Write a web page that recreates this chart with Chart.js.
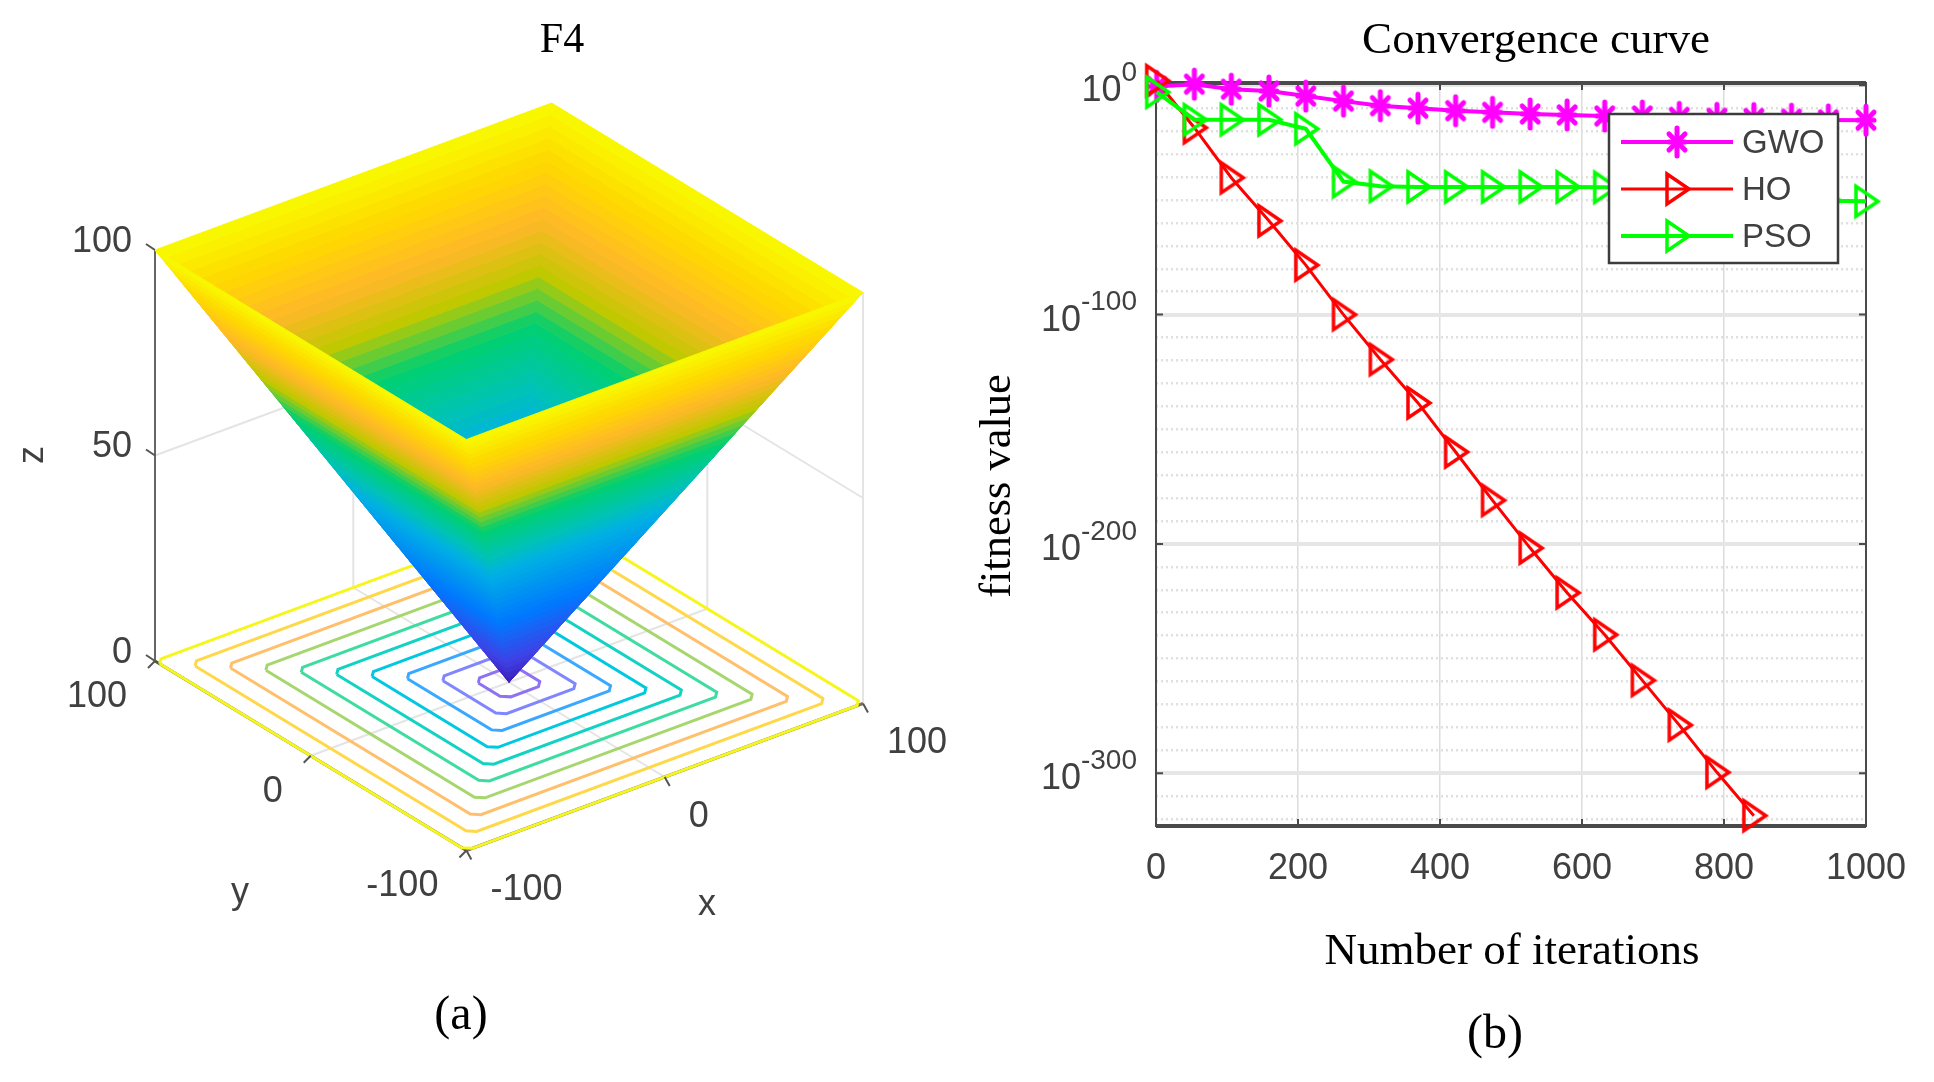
<!DOCTYPE html>
<html lang="en">
<head>
<meta charset="UTF-8">
<title>F4 and convergence curve</title>
<script src="https://cdn.jsdelivr.net/npm/chart.js"></script>
<style>
  html, body { margin: 0; padding: 0; background: #fff; }
  #page { position: relative; width: 1934px; height: 1082px; overflow: hidden; filter: blur(0.5px); }
  canvas { position: absolute; left: 0; top: 0; }
</style>
</head>
<body>
<div id="page">
  <canvas id="surfaceChart" width="1934" height="1082"></canvas>
  <canvas id="curveChart" width="1934" height="1082"></canvas>
</div>
<script>
// panel (b) values, fitness is kept as log10 because it goes down to 1e-323
const iterations = [1, 54, 106, 159, 211, 264, 316, 369, 422, 474, 527, 579, 632, 685, 737, 790, 842, 895, 947, 1000];
const gwoLog10 = [-0.5, 0.5, -1.7, -2.5, -4.7, -6.9, -8.9, -10, -11.1, -11.8, -12.5, -12.9, -13.4, -13.4, -14, -14.4, -14.5, -14.8, -15.1, -15.2];
const hoLog10 = [2, -18.5, -40.3, -59.1, -78.4, -100, -119.6, -138.5, -159.9, -181, -201.8, -221.3, -239.6, -259.5, -279, -299.6, -318.5];
const psoLog10 = [-3, -15, -15, -15, -19, -42, -44, -44.3, -44.3, -44.3, -44.3, -44.3, -44.5, -45, -46, -47, -48, -49.5, -50.3, -50.6];
const xTicks = [0, 200, 400, 600, 800, 1000];
const yMajorExponents = [0, -100, -200, -300];

// panel (a) values
const surfaceCornersX = [-100, 100, 100, -100];
const surfaceCornersY = [100, 100, -100, -100];
const surfaceLevels = [0, 2, 4, 6, 8, 10, 12, 14, 16, 18, 20, 22, 24, 26, 28, 30, 32, 34, 36, 38, 40, 42, 44, 46, 48, 50, 52, 54, 56, 58, 60, 62, 64, 66, 68, 70, 72, 74, 76, 78, 80, 82, 84, 86, 88, 90, 92, 94, 96, 98, 100];
const contourLevels = [100, 90, 80, 70, 60, 50, 40, 30, 20, 10];
const contourColors = ['#f6f61e', '#ffd84a', '#ffc06c', '#a6d66e', '#3edca0', '#12d2c4', '#00c8e0', '#3aa8ff', '#7f86ff', '#8f72f4'];
const zTicks = [0, 50, 100];
const xyTicks = [-100, 0, 100];

// colour along z
const colorStopZ = [0, 8, 24, 44, 52, 62, 71, 80, 90, 100];
const colorStops = [[58, 30, 184], [64, 64, 230], [0, 120, 255], [0, 176, 228], [0, 196, 176], [0, 208, 112], [192, 200, 0], [255, 184, 40], [255, 216, 0], [248, 250, 0]];

const SANS = '"Liberation Sans", Arial, sans-serif';
const SERIF = '"Liberation Serif", "Times New Roman", serif';
const TICK_COLOR = '#404040';

function project(x, y, z) {
  return { x: 509 + 1.983 * x - 1.557 * y, y: 682.25 - 0.735 * x - 0.9475 * y - 4.11 * z };
}

function surfaceColor(z) {
  let i = 0;
  while (i < colorStopZ.length - 2 && z > colorStopZ[i + 1]) i++;
  const t = (z - colorStopZ[i]) / (colorStopZ[i + 1] - colorStopZ[i]);
  const c = colorStops[i].map((v, k) => Math.round(v + (colorStops[i + 1][k] - v) * t));
  return `rgb(${c[0]},${c[1]},${c[2]})`;
}

function lineSet(points, color, width) {
  return { data: points, borderColor: color, borderWidth: width, showLine: true, pointRadius: 0, fill: false, clip: false };
}

// one band of a pyramid wall, between two corners and two heights
function bandSet(a, b, z0, z1) {
  const s0 = z0 / 100, s1 = z1 / 100;
  const xs = surfaceCornersX, ys = surfaceCornersY;
  const pts = [
    project(xs[a] * s0, ys[a] * s0, z0),
    project(xs[b] * s0, ys[b] * s0, z0),
    project(xs[b] * s1, ys[b] * s1, z1),
    project(xs[a] * s1, ys[a] * s1, z1),
    project(xs[a] * s0, ys[a] * s0, z0)
  ];
  const color = surfaceColor((z0 + z1) / 2);
  return { data: pts, borderColor: color, backgroundColor: color, borderWidth: 1, showLine: true, pointRadius: 0, fill: 'shape', clip: false };
}

// square contour on the floor with the corners cut off
function contourRing(level, color) {
  const cut = 3;
  const pts = [];
  [[-1, 1], [1, 1], [1, -1], [-1, -1]].forEach(([sx, sy], i) => {
    const onEdge = project(sx * level, sy * (level - cut), 0);
    const onNext = project(sx * (level - cut), sy * level, 0);
    if (i % 2 === 0) pts.push(onEdge, onNext);
    else pts.push(onNext, onEdge);
  });
  pts.push(pts[0]);
  return lineSet(pts, color, 3);
}

function surfaceDatasets() {
  const sets = [];
  const GRID = '#e4e4e4';
  // back walls and floor grid
  sets.push(lineSet([project(-100, 100, 50), project(100, 100, 50), project(100, -100, 50)], GRID, 2));
  [[-100, 100], [0, 100], [100, 100], [100, 0], [100, -100]].forEach(([x, y]) => {
    sets.push(lineSet([project(x, y, 0), project(x, y, 100)], GRID, 2));
  });
  sets.push(lineSet([project(0, -100, 0), project(0, 100, 0)], GRID, 2));
  sets.push(lineSet([project(-100, 0, 0), project(100, 0, 0)], GRID, 2));
  // box edges under the contour rings
  sets.push(lineSet([project(-100, 100, 0), project(-100, -100, 0)], '#55553a', 3));
  sets.push(lineSet([project(-100, -100, 0), project(100, -100, 0)], '#777755', 3));
  contourLevels.forEach((level, i) => sets.push(contourRing(level, contourColors[i])));
  sets.push(lineSet([project(-100, 100, 0), project(-100, 100, 100)], '#666666', 2));
  // ticks
  zTicks.forEach(z => {
    const p = project(-100, 100, z);
    sets.push(lineSet([p, { x: p.x - 9, y: p.y - 6 }], '#555555', 2));
  });
  xyTicks.forEach(v => {
    const px = project(v, -100, 0), py = project(-100, v, 0);
    sets.push(lineSet([px, { x: px.x + 5, y: px.y + 9 }], '#555555', 2));
    sets.push(lineSet([py, { x: py.x - 7, y: py.y + 7 }], '#555555', 2));
  });
  // walls: back ones first, front ones paint over them
  [[0, 1], [1, 2], [3, 0], [2, 3]].forEach(([a, b]) => {
    for (let i = 0; i < surfaceLevels.length - 1; i++) {
      sets.push(bandSet(a, b, surfaceLevels[i], surfaceLevels[i + 1]));
    }
  });
  return sets.reverse(); // first dataset is painted last by Chart.js
}

function drawText(ctx, text, x, y, font, color, align, rotate) {
  ctx.save();
  ctx.translate(x, y);
  if (rotate) ctx.rotate(rotate);
  ctx.font = font;
  ctx.fillStyle = color;
  ctx.textAlign = align || 'center';
  ctx.textBaseline = 'middle';
  ctx.fillText(text, 0, 0);
  ctx.restore();
}

const surfaceLabels = {
  id: 'surfaceLabels',
  afterDraw(chart) {
    const ctx = chart.ctx;
    const tickFont = `36px ${SANS}`;
    zTicks.forEach(z => {
      const p = project(-100, 100, z);
      drawText(ctx, String(z), p.x - 23, p.y - 8, tickFont, TICK_COLOR, 'right');
    });
    xyTicks.forEach(v => {
      const px = project(v, -100, 0), py = project(-100, v, 0);
      drawText(ctx, String(v), px.x + 24, px.y + 40, tickFont, TICK_COLOR, 'left');
      drawText(ctx, String(v), py.x - 28, py.y + 36, tickFont, TICK_COLOR, 'right');
    });
    drawText(ctx, 'x', 707, 905, tickFont, TICK_COLOR);
    drawText(ctx, 'y', 240, 893, tickFont, TICK_COLOR);
    drawText(ctx, 'z', 33, 455, tickFont, TICK_COLOR, 'center', -Math.PI / 2);
    drawText(ctx, 'F4', 562, 41, `42px ${SERIF}`, '#000');
    drawText(ctx, '(a)', 461, 1016, `48px ${SERIF}`, '#000');
  }
};

new Chart(document.getElementById('surfaceChart'), {
  type: 'scatter',
  data: { datasets: surfaceDatasets() },
  options: {
    responsive: false,
    animation: false,
    layout: { padding: 0 },
    scales: {
      x: { display: false, min: 0, max: 1934 },
      y: { display: false, min: 0, max: 1082, reverse: true }
    },
    plugins: { legend: { display: false }, tooltip: { enabled: false } }
  },
  plugins: [surfaceLabels]
});

// MATLAB '>' marker, taller than it is wide in this figure
function triangleMarker(color) {
  const c = document.createElement('canvas');
  c.width = 34; c.height = 38;
  const g = c.getContext('2d');
  g.strokeStyle = color;
  g.lineWidth = 3.5;
  g.beginPath();
  g.moveTo(7, 4);
  g.lineTo(29, 19);
  g.lineTo(7, 34);
  g.closePath();
  g.stroke();
  return c;
}

function starMarker(color) {
  const c = document.createElement('canvas');
  c.width = 26; c.height = 36;
  const g = c.getContext('2d');
  g.strokeStyle = color;
  g.lineWidth = 5;
  g.lineCap = 'round';
  [[13, 4, 13, 32], [5, 10, 21, 26], [21, 10, 5, 26], [5, 18, 21, 18]].forEach(s => {
    g.beginPath();
    g.moveTo(s[0], s[1]);
    g.lineTo(s[2], s[3]);
    g.stroke();
  });
  return c;
}

const gwoMarker = starMarker('#ff00ff');
const hoMarker = triangleMarker('#ff0000');
const psoMarker = triangleMarker('#00ff00');

function curve(label, values, color, width, marker, order) {
  return {
    label,
    order,
    data: values.map((v, i) => ({ x: iterations[i], y: v })),
    borderColor: color,
    borderWidth: width,
    pointStyle: marker,
    pointRadius: 14,
    showLine: true,
    clip: false,
    fill: false
  };
}

const curveDecor = {
  id: 'curveDecor',
  beforeDatasetsDraw(chart) {
    const ctx = chart.ctx, a = chart.chartArea;
    ctx.save();
    ctx.strokeStyle = '#4a4a4a';
    ctx.lineWidth = 2;
    ctx.strokeRect(a.left, a.top, a.right - a.left, a.bottom - a.top);
    ctx.lineWidth = 4;
    ctx.beginPath();
    ctx.moveTo(a.left, a.top); ctx.lineTo(a.right, a.top);
    ctx.moveTo(a.left, a.bottom); ctx.lineTo(a.right, a.bottom);
    ctx.stroke();
    ctx.lineWidth = 2;
    xTicks.forEach(v => {
      const x = chart.scales.x.getPixelForValue(v);
      ctx.beginPath();
      ctx.moveTo(x, a.bottom); ctx.lineTo(x, a.bottom - 7);
      ctx.moveTo(x, a.top); ctx.lineTo(x, a.top + 7);
      ctx.stroke();
    });
    yMajorExponents.forEach(v => {
      const y = chart.scales.y.getPixelForValue(v);
      ctx.beginPath();
      ctx.moveTo(a.left, y); ctx.lineTo(a.left + 7, y);
      ctx.moveTo(a.right, y); ctx.lineTo(a.right - 7, y);
      ctx.stroke();
    });
    ctx.restore();
  },
  afterDraw(chart) {
    const ctx = chart.ctx, a = chart.chartArea;
    // y tick labels: base and raised exponent
    yMajorExponents.forEach(v => {
      const y = chart.scales.y.getPixelForValue(v);
      drawText(ctx, String(v), a.left - 19, y - 12, `28px ${SANS}`, TICK_COLOR, 'right');
      ctx.font = `28px ${SANS}`;
      const w = ctx.measureText(String(v)).width;
      drawText(ctx, '10', a.left - 19 - w, y + 6, `36px ${SANS}`, TICK_COLOR, 'right');
    });
    // legend box sits over the curves
    const boxX = 1609, boxY = 114, boxW = 229, boxH = 149;
    ctx.save();
    ctx.fillStyle = '#fff';
    ctx.strokeStyle = '#3c3c3c';
    ctx.lineWidth = 2.5;
    ctx.fillRect(boxX, boxY, boxW, boxH);
    ctx.strokeRect(boxX, boxY, boxW, boxH);
    chart.data.datasets.forEach((ds, i) => {
      const y = boxY + 28 + i * 47;
      ctx.strokeStyle = ds.borderColor;
      ctx.lineWidth = ds.borderWidth;
      ctx.beginPath();
      ctx.moveTo(boxX + 12, y);
      ctx.lineTo(boxX + 124, y);
      ctx.stroke();
      const m = ds.pointStyle;
      ctx.drawImage(m, boxX + 68 - m.width / 2, y - m.height / 2);
      drawText(ctx, ds.label, boxX + 133, y + 2, `33px ${SANS}`, TICK_COLOR, 'left');
    });
    ctx.restore();
    drawText(ctx, 'Convergence curve', 1536, 41, `45px ${SERIF}`, '#000');
    drawText(ctx, 'Number of iterations', 1512, 952, `45px ${SERIF}`, '#000');
    drawText(ctx, 'fitness value', 998, 486, `44.5px ${SERIF}`, '#000', 'center', -Math.PI / 2);
    drawText(ctx, '(b)', 1495, 1035, `48px ${SERIF}`, '#000');
  }
};

new Chart(document.getElementById('curveChart'), {
  type: 'scatter',
  data: {
    datasets: [
      curve('GWO', gwoLog10, '#ff00ff', 4, gwoMarker, 3),
      curve('HO', hoLog10, '#ff0000', 3, hoMarker, 2),
      curve('PSO', psoLog10, '#00ff00', 4, psoMarker, 1)
    ]
  },
  options: {
    responsive: false,
    animation: false,
    layout: { padding: { top: 83, right: 68 } },
    scales: {
      x: {
        type: 'linear',
        min: 0,
        max: 1000,
        // keep the plot box where it is whatever the width of the last tick label
        afterFit: s => { s.height = 256; s.paddingRight = 0; s.paddingLeft = 0; },
        afterBuildTicks: s => { s.ticks = xTicks.map(v => ({ value: v })); },
        grid: { color: '#dcdcdc', lineWidth: 1.5, drawTicks: false },
        border: { display: false },
        ticks: { color: TICK_COLOR, font: { family: SANS, size: 36 }, padding: 21, maxRotation: 0, autoSkip: false, callback: v => String(v) }
      },
      y: {
        type: 'linear',
        min: -323,
        max: 1,
        afterFit: s => { s.width = 1156; },
        afterBuildTicks: s => {
          const t = [];
          for (let v = 0; v >= -320; v -= 10) t.push({ value: v });
          s.ticks = t;
        },
        grid: {
          drawTicks: false,
          color: c => (c.tick.value % 100 === 0 ? '#e6e6e6' : '#e0e0e0'),
          lineWidth: c => (c.tick.value % 100 === 0 ? 4 : 2.5)
        },
        border: { display: false, dash: c => (c.tick.value % 100 === 0 ? [] : [2, 3]) },
        ticks: { display: false }
      }
    },
    plugins: { legend: { display: false }, tooltip: { enabled: false } }
  },
  plugins: [curveDecor]
});
</script>
</body>
</html>
